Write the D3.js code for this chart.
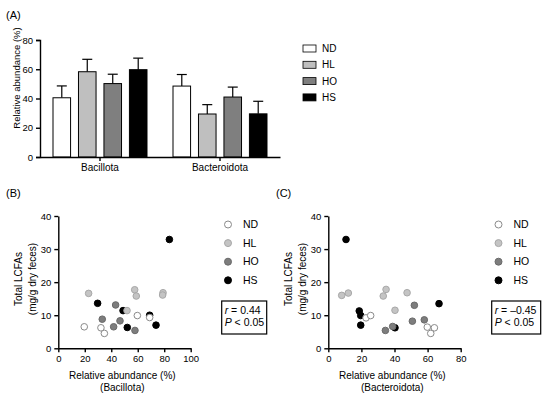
<!doctype html>
<html>
  <head>
    <meta charset="utf-8">
    <script src="https://cdn.jsdelivr.net/npm/d3@7"></script>
    <style>
      body { margin: 0; background: #fff; }
      text { font-family: "Liberation Sans", Arial, sans-serif; }
    </style>
  </head>
  <body>
    <div id="chart"></div>
  </body>
  <script>
    // bar chart (A)
    var phyla = ["Bacillota", "Bacteroidota"];
    var groups = ["ND", "HL", "HO", "HS"];
    var barMeans = {
      Bacillota: [40.5, 58.3, 50.2, 59.7],
      Bacteroidota: [48.5, 29.4, 41.0, 29.5]
    };
    var barErrTops = {
      Bacillota: [48.6, 66.8, 56.6, 67.6],
      Bacteroidota: [56.4, 35.8, 47.8, 38.1]
    };
    var yTicksA = [0, 20, 40, 60, 80];

    // scatter (B) Bacillota vs LCFAs
    var bND = [[19.6, 6.5], [32.2, 6.2], [34.8, 4.5], [59.7, 9.9], [69.0, 9.3]];
    var bHL = [[22.9, 16.6], [57.7, 17.7], [58.9, 15.8], [79.1, 16.8], [78.8, 16.1], [51.9, 11.4]];
    var bHO = [[43.3, 13.1], [33.2, 8.8], [46.6, 8.3], [41.8, 6.5], [57.9, 5.4]];
    var bHS = [[83.9, 32.9], [29.7, 13.6], [48.9, 11.4], [69.0, 10.0], [52.1, 6.3], [73.8, 7.0]];

    // scatter (C) Bacteroidota vs LCFAs
    var cND = [[22.8, 9.2], [25.6, 9.9], [59.8, 6.4], [64.1, 6.2], [61.9, 4.5]];
    var cHL = [[8.1, 16.0], [12.1, 16.7], [33.2, 15.8], [34.9, 17.8], [47.6, 16.8], [40.3, 11.5]];
    var cHO = [[52.0, 13.0], [58.0, 8.6], [50.8, 8.2], [38.9, 6.6], [34.5, 5.4]];
    var cHS = [[10.7, 32.9], [18.7, 11.3], [19.6, 9.9], [19.6, 7.0], [40.3, 6.2], [66.9, 13.5]];

    var yTicksLCFA = [0, 10, 20, 30, 40];
    var xTicksB = [0, 20, 40, 60, 80, 100];
    var xTicksC = [0, 20, 40, 60, 80];

    var barFill = {ND: "#ffffff", HL: "#bfbfbf", HO: "#7f7f7f", HS: "#000000"};
    var dotFill = {ND: "#ffffff", HL: "#c4c4c4", HO: "#7d7d7d", HS: "#000000"};
    var dotStroke = {ND: "#8a8a8a", HL: "#a8a8a8", HO: "#6a6a6a", HS: "#000000"};

    var width = 550, height = 396;

    var svg = d3.select("#chart")
                .append("svg")
                .attr("width", width)
                .attr("height", height);

    function styleAxis(g) {
      g.selectAll("path, line").attr("stroke", "#000").attr("stroke-width", 1.4);
      g.selectAll("text").attr("fill", "#000").style("font-size", "9.5px")
        .style("font-family", "'Liberation Sans', Arial, sans-serif");
    }

    // ---- panel A ----
    svg.append("text").attr("x", 6).attr("y", 19).text("(A)")
      .style("font-size", "11px");

    var yA = d3.scaleLinear().domain([0, 80]).range([157, 40]);
    var x0 = d3.scaleBand().domain(phyla).range([40, 280]);
    var x1 = d3.scaleBand().domain(groups).range([-47, 47]).paddingInner(0.31);

    var gA = svg.append("g");
    phyla.forEach(function(p) {
      var cx = x0(p) + x0.bandwidth() / 2;
      groups.forEach(function(grp, i) {
        var bx = cx + x1(grp);
        var bw = x1.bandwidth();
        // error bar (upper only)
        gA.append("line")
          .attr("x1", bx + bw / 2).attr("x2", bx + bw / 2)
          .attr("y1", yA(barMeans[p][i])).attr("y2", yA(barErrTops[p][i]))
          .attr("stroke", "#000").attr("stroke-width", 1.2);
        gA.append("line")
          .attr("x1", bx + bw / 2 - 5).attr("x2", bx + bw / 2 + 5)
          .attr("y1", yA(barErrTops[p][i])).attr("y2", yA(barErrTops[p][i]))
          .attr("stroke", "#000").attr("stroke-width", 1.2);
        gA.append("rect")
          .attr("x", bx).attr("width", bw)
          .attr("y", yA(barMeans[p][i]))
          .attr("height", yA(0) - yA(barMeans[p][i]))
          .attr("fill", barFill[grp])
          .attr("stroke", "#000").attr("stroke-width", 1);
      });
    });

    svg.append("g").attr("transform", "translate(40,0)")
      .call(d3.axisLeft(yA).tickValues(yTicksA).tickSize(4).tickPadding(3))
      .call(styleAxis);
    svg.append("g").attr("transform", "translate(0,157)")
      .call(d3.axisBottom(x0).tickSize(4).tickSizeOuter(0).tickPadding(3))
      .call(styleAxis)
      .selectAll("text").style("font-size", "10px");

    svg.append("text")
      .attr("transform", "translate(17,78) rotate(-90)")
      .attr("text-anchor", "middle")
      .attr("dy", "0.35em")
      .style("font-size", "9.5px")
      .text("Relative abundance (%)");

    var legA = svg.append("g");
    groups.forEach(function(grp, i) {
      var ly = 48.5 + i * 16.3;
      legA.append("rect").attr("x", 303).attr("y", ly - 3.5)
        .attr("width", 13).attr("height", 7)
        .attr("fill", barFill[grp]).attr("stroke", "#000").attr("stroke-width", 0.8);
      legA.append("text").attr("x", 322).attr("y", ly).attr("dy", "0.35em")
        .style("font-size", "10px").text(grp);
    });

    // ---- scatter panels ----
    function scatter(opts) {
      var g = svg.append("g");
      var x = d3.scaleLinear().domain(opts.xDomain).range([opts.left, opts.left + 132.4]);
      var y = d3.scaleLinear().domain([0, 40]).range([348.3, 216]);

      g.append("text").attr("x", opts.tagX).attr("y", 197).text(opts.tag)
        .style("font-size", "11px");

      g.append("g").attr("transform", "translate(0,348.3)")
        .call(d3.axisBottom(x).tickValues(opts.xTicks).tickSize(4).tickSizeOuter(0).tickPadding(3))
        .call(styleAxis);
      g.append("g").attr("transform", "translate(" + opts.left + ",0)")
        .call(d3.axisLeft(y).tickValues(yTicksLCFA).tickSize(4).tickSizeOuter(0).tickPadding(3))
        .call(styleAxis);

      var sets = [["HS", opts.HS], ["HO", opts.HO], ["HL", opts.HL], ["ND", opts.ND]];
      sets.forEach(function(s) {
        g.append("g").selectAll("circle")
          .data(s[1])
          .enter()
          .append("circle")
          .attr("cx", function(d) { return x(d[0]); })
          .attr("cy", function(d) { return y(d[1]); })
          .attr("r", 3.3)
          .attr("fill", dotFill[s[0]])
          .attr("stroke", dotStroke[s[0]])
          .attr("stroke-width", 1);
      });

      // y label
      var ycen = 279;
      g.append("text")
        .attr("transform", "translate(" + opts.yLab1 + "," + ycen + ") rotate(-90)")
        .attr("text-anchor", "middle").attr("dy", "0.35em")
        .style("font-size", "10px").text("Total LCFAs");
      g.append("text")
        .attr("transform", "translate(" + opts.yLab2 + "," + ycen + ") rotate(-90)")
        .attr("text-anchor", "middle").attr("dy", "0.35em")
        .style("font-size", "10px").text("(mg/g dry feces)");

      // x label
      var xcen = opts.left + 64;
      g.append("text").attr("x", xcen).attr("y", 375).attr("dy", "0.35em")
        .attr("text-anchor", "middle").style("font-size", "10px")
        .text("Relative abundance (%)");
      g.append("text").attr("x", xcen).attr("y", 387).attr("dy", "0.35em")
        .attr("text-anchor", "middle").style("font-size", "10px")
        .text("(" + opts.phylum + ")");

      // legend
      groups.forEach(function(grp, i) {
        var ly = 224.5 + i * 18.6;
        g.append("circle").attr("cx", opts.legX).attr("cy", ly).attr("r", 3.5)
          .attr("fill", dotFill[grp]).attr("stroke", dotStroke[grp]).attr("stroke-width", 1);
        g.append("text").attr("x", opts.legX + 15).attr("y", ly).attr("dy", "0.35em")
          .style("font-size", "10.5px").text(grp);
      });

      // stats box
      g.append("rect").attr("x", opts.boxX).attr("y", 301)
        .attr("width", opts.boxW).attr("height", 33)
        .attr("fill", "#fff").attr("stroke", "#000").attr("stroke-width", 1.2);
      var t1 = g.append("text").attr("x", opts.boxX + 3).attr("y", 310.5).attr("dy", "0.35em")
        .style("font-size", "10.5px");
      t1.append("tspan").style("font-style", "italic").text("r");
      t1.append("tspan").text(" = " + opts.r);
      var t2 = g.append("text").attr("x", opts.boxX + 3).attr("y", 322.5).attr("dy", "0.35em")
        .style("font-size", "10.5px");
      t2.append("tspan").style("font-style", "italic").text("P");
      t2.append("tspan").text(" < 0.05");
    }

    scatter({
      tag: "(B)", tagX: 6, phylum: "Bacillota",
      left: 58.3, xDomain: [0, 100], xTicks: xTicksB,
      ND: bND, HL: bHL, HO: bHO, HS: bHS,
      yLab1: 18, yLab2: 32, legX: 228,
      boxX: 221.7, boxW: 45, r: "0.44"
    });

    scatter({
      tag: "(C)", tagX: 276, phylum: "Bacteroidota",
      left: 328.3, xDomain: [0, 80], xTicks: xTicksC,
      ND: cND, HL: cHL, HO: cHO, HS: cHS,
      yLab1: 288, yLab2: 302, legX: 498.5,
      boxX: 491.7, boxW: 49, r: "\u20130.45"
    });
  </script>
</html>
